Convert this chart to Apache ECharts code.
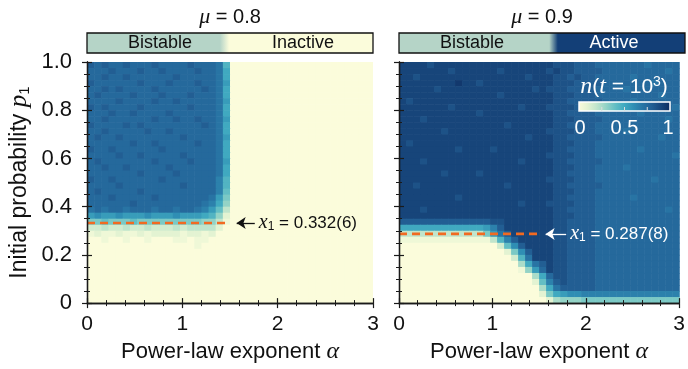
<!DOCTYPE html>
<html><head><meta charset="utf-8">
<script src="https://cdn.jsdelivr.net/npm/echarts@6/dist/echarts.min.js"></script>
<style>html,body{margin:0;padding:0;background:#fff}#c{width:688px;height:369px}</style>
</head><body><div id="c"></div>
<script>
// ---------------- data ----------------
const alphaMin = 0, alphaMax = 3, pMin = 0, pMax = 1;
const nCols = 40, nRows = 40;
const xTickLabels = ['0', '1', '2', '3'];
const yTickLabels = ['0', '0.2', '0.4', '0.6', '0.8', '1.0'];
const muValues = ['0.8', '0.9'];
const phasesLeft = ['Bistable', 'Inactive'];
const phasesRight = ['Bistable', 'Active'];
const x1Values = [0.332, 0.287];
const x1Texts = ['0.332(6)', '0.287(8)'];
const colorbarTicks = ['0', '0.5', '1'];
// cell values n(t=10^3): char code a..u -> 0..1 in steps of 0.05; rows listed top (p≈1) to bottom (p≈0)
const leftRows = [
"qpqppqpppq ppppqpppoj aaaaaaaaaa aaaaaaaaaa",
"pppqpppqpp qppppqppok aaaaaaaaaa aaaaaaaaaa",
"ppqppqpppp ppqpppppok aaaaaaaaaa aaaaaaaaaa",
"qppppppqpp pqpppqppol aaaaaaaaaa aaaaaaaaaa",
"ppqpqppppq ppppppqpok aaaaaaaaaa aaaaaaaaaa",
"pqppppqppp qpppqpppok aaaaaaaaaa aaaaaaaaaa",
"ppppqppppq ppqpppppol aaaaaaaaaa aaaaaaaaaa",
"qpqppppqpp ppppqpppok aaaaaaaaaa aaaaaaaaaa",
"pppqppqppp pqppppppok aaaaaaaaaa aaaaaaaaaa",
"ppqppppppq ppqppqppol aaaaaaaaaa aaaaaaaaaa",
"qppppqpqpp ppppppqpok aaaaaaaaaa aaaaaaaaaa",
"ppqpppppqp pqppppppok aaaaaaaaaa aaaaaaaaaa",
"pqppqppppp pppqppppol aaaaaaaaaa aaaaaaaaaa",
"ppppppqppq pppppqppok aaaaaaaaaa aaaaaaaaaa",
"qppqpppppp qpppppppok aaaaaaaaaa aaaaaaaaaa",
"ppppqppqpp pppqppppok aaaaaaaaaa aaaaaaaaaa",
"pqpppppppq ppppqpppol aaaaaaaaaa aaaaaaaaaa",
"ppqppqpppp pqppppppok aaaaaaaaaa aaaaaaaaaa",
"pppppppqpp ppqpppppok aaaaaaaaaa aaaaaaaaaa",
"qppqpppppp qpppppppnj aaaaaaaaaa aaaaaaaaaa",
"ppppqppppp pppqppppnj aaaaaaaaaa aaaaaaaaaa",
"pqpppppqpp ppppppppni aaaaaaaaaa aaaaaaaaaa",
"pppqpppppq pppppppolh aaaaaaaaaa aaaaaaaaaa",
"ppppppqppp pppppponkg aaaaaaaaaa aaaaaaaaaa",
"opoppopppo ppopponlie aaaaaaaaaa aaaaaaaaaa",
"lmllmlllml llmlllkjgc aaaaaaaaaa aaaaaaaaaa",
"hhihhhihhh hhhhhhggeb aaaaaaaaaa aaaaaaaaaa",
"ddeddedded ddedeeeeca aaaaaaaaaa aaaaaaaaaa",
"bcbbcbbcbc cccbccbcaa aaaaaaaaaa aaaaaaaaaa",
"aabaabaaba aabbabbaaa aaaaaaaaaa aaaaaaaaaa",
"aaaaaaaaaa aaaaabaaaa aaaaaaaaaa aaaaaaaaaa",
"aaaaaaaaaa aaaaaaaaaa aaaaaaaaaa aaaaaaaaaa",
"aaaaaaaaaa aaaaaaaaaa aaaaaaaaaa aaaaaaaaaa",
"aaaaaaaaaa aaaaaaaaaa aaaaaaaaaa aaaaaaaaaa",
"aaaaaaaaaa aaaaaaaaaa aaaaaaaaaa aaaaaaaaaa",
"aaaaaaaaaa aaaaaaaaaa aaaaaaaaaa aaaaaaaaaa",
"aaaaaaaaaa aaaaaaaaaa aaaaaaaaaa aaaaaaaaaa",
"aaaaaaaaaa aaaaaaaaaa aaaaaaaaaa aaaaaaaaaa",
"aaaaaaaaaa aaaaaaaaaa aaaaaaaaaa aaaaaaaaaa",
"aaaaaaaaaa aaaaaaaaaa aaaaaaaaaa aaaaaaaaaa"
];
const rightRows = [
"ssssrsssss ssssssssss ssrrrqqqpp pppppopppp",
"sssssssrss ssssrsssss srsrrqqqqp ppppppppop",
"ssrsssssss ssssssssrs ssrrqrqqpp pppopppppp",
"ssssssssts srssssssss ssrrrqqqqp ppppppoppp",
"sssssrssss sssssssssr srrrqqqqpp ppoppppppp",
"ssssssssss ssssrsssss ssrrrqqqpp pppppppopp",
"srssssssss ssssssssss ssrrqqqqqp pppopppppp",
"sssssssrss sssssssrss srrrrqqqpp pppppppppo",
"ssssssssss srssssssss ssrrqqqqpp ppppoppppp",
"sssrssssss ssssssssss ssrrrqqqqp ppppppppop",
"ssssssssss sssssrssss ssrrqqqqpp pppppppppp",
"ssssssrsss ssssssssss srrrrqqqpp ppoppppppp",
"ssssssssss ssssssssrs ssrrqqqqqp pppppppopp",
"srssssssss ssssssssss ssrrrqqqpp pppppppppp",
"ssssssssrs sssrssssss ssrrqqqqpp ppppoppppp",
"ssssssssss ssssssssss srrrrqqqpp pppppppppo",
"sssrssssss sssssssrss ssrrqqqqqp pppppppppp",
"ssssssssss ssssssssss ssrrrqqqpp ppoppppppp",
"ssssssrsss srssssssss ssrrqqqqpp pppppppppp",
"ssssssssss ssssssssss srrrrqqqpp ppppppoppp",
"ssrsssssss sssssrssss ssrrqqqqqp pppppppppp",
"ssssssssss ssssssssss ssrrrqqqpp pppppppppp",
"ssssssssrs ssssssssss ssrrqqqqpp pppopppppp",
"ssssssssss sssssssrss srrrrqqqpp pppppppppp",
"sssrssssss ssssssssss ssrrqqqqpp ppppppppop",
"ssssssssss ssssssssss ssrrrqqqpp pppppppppp",
"qqqqqqqqqq qqqrrsssss ssrrqqqqpp pppppppppp",
"kkkkkkkkkk kklnqsssss ssrrqqqqpp pppppppppp",
"eeeeeeeeee eehloqssss ssrrqqqqpp pppppppppp",
"bbbbbbbbbb bbbejnqsss ssrrqqqqpp pppppppppp",
"aaaaaaaaaa aaaadimqss ssrrqqqqpp pppppppppp",
"aaaaaaaaaa aaaaachmqs ssrrqqqqpp pppppppppp",
"aaaaaaaaaa aaaaaadjos ssrrqqqqpp pppppppppp",
"aaaaaaaaaa aaaaaaafko qsrrqqqqpp pppppppppp",
"aaaaaaaaaa aaaaaaabgl psrrqqqqpp pppppppppp",
"aaaaaaaaaa aaaaaaaaaf kprrqqqqpp pppppppppp",
"aaaaaaaaaa aaaaaaaaac inqrqqqqpp pppppppppp",
"aaaaaaaaaa aaaaaaaaaa fkoqqqqqpp pppppppppp",
"aaaaaaaaaa aaaaaaaaaa chklmmnnnn nnnnnnnnnn",
"aaaaaaaaaa aaaaaaaaaa acfggghhhh hhhhhhhhhh"
];
const cmap = ['#fbfcdb','#e3f3d2','#c0e5cc','#93d3c6','#63bec4','#40a9c0','#2f8eb4','#2874a4','#225e93','#17457a','#0c2b5f'];

// ---------------- build ----------------
const dA = (alphaMax - alphaMin) / nCols, dP = (pMax - pMin) / nRows;
function decode(rows) {
  const out = [];
  rows.forEach((s, i) => {
    const r = nRows - 1 - i;
    const str = s.replace(/\s+/g, '');
    for (let c = 0; c < nCols; c++) {
      const ch = str[Math.min(c, str.length - 1)];
      out.push([alphaMin + c * dA, pMin + r * dP, (ch.charCodeAt(0) - 97) * 0.05]);
    }
  });
  return out;
}
const leftData = decode(leftRows), rightData = decode(rightRows);

const FONT = '"Liberation Sans", Arial, sans-serif';
const SERIF = '"Liberation Serif", "DejaVu Serif", serif';
const AX = '#1a1a1a';
const grids = [
  {left: 87, top: 62, width: 286, height: 243},
  {left: 399, top: 62, width: 286, height: 243}
];

function cellRender(params, api) {
  const a = api.value(0), p = api.value(1);
  const tl = api.coord([a, p + dP]);
  const br = api.coord([a + dA, p]);
  return {type: 'rect', shape: {x: tl[0], y: tl[1], width: br[0] - tl[0] + 0.6, height: br[1] - tl[1] + 0.6},
    style: {fill: api.visual('color')}};
}

function xAx(g, pos, showLabel, name) {
  return {type: 'value', gridIndex: g, position: pos, min: alphaMin, max: alphaMax, interval: 1, z: 5,
    axisLine: {show: true, lineStyle: {color: AX, width: 1.3}},
    axisTick: {show: true, inside: true, length: 5, lineStyle: {color: AX, width: 1.2}},
    minorTick: {show: true, splitNumber: 5, length: 3, lineStyle: {color: AX, width: 1}},
    splitLine: {show: false}, minorSplitLine: {show: false},
    axisLabel: {show: showLabel, margin: 11, fontSize: 21, fontFamily: FONT, color: '#111',
      formatter: v => xTickLabels[Math.round(v)]},
    name: name || '', nameLocation: 'middle', nameGap: 33,
    nameTextStyle: {fontSize: 22, fontFamily: FONT, color: '#111',
      rich: {i: {fontSize: 24, fontFamily: SERIF, fontStyle: 'italic', color: '#111'}}}
  };
}
function yAx(g, pos, showLabel, name) {
  return {type: 'value', gridIndex: g, position: pos, min: pMin, max: pMax, interval: 0.2, z: 5,
    axisLine: {show: true, lineStyle: {color: AX, width: 1.3}},
    axisTick: {show: true, inside: true, length: 5, lineStyle: {color: AX, width: 1.2}},
    minorTick: {show: true, splitNumber: 4, length: 3, lineStyle: {color: AX, width: 1}},
    splitLine: {show: false}, minorSplitLine: {show: false},
    axisLabel: {show: showLabel, margin: 15, fontSize: 22, fontFamily: FONT, color: '#111',
      formatter: v => yTickLabels[Math.round(v * 5)]},
    name: name || '', nameLocation: 'middle', nameGap: 55,
    nameTextStyle: {fontSize: 23, fontFamily: FONT, color: '#111',
      rich: {i: {fontSize: 25, fontFamily: SERIF, fontStyle: 'italic', color: '#111'},
             s: {fontSize: 15, fontFamily: FONT, color: '#111', verticalAlign: 'bottom'}}}
  };
}

function annotSeries(g, x1, txt, color) {
  return {
    type: 'line', xAxisIndex: 2 * g, yAxisIndex: 2 * g, z: 4, silent: true,
    data: [[alphaMin, x1], [1.5, x1]], showSymbol: false, symbol: 'none',
    lineStyle: {color: '#f26a21', width: 2.6, type: [8, 5]},
    markLine: {
      silent: true, symbol: ['none', 'arrow'], symbolSize: 9, animation: false,
      lineStyle: {color: color, width: 1.3, type: 'solid'},
      label: {show: true, position: 'start', distance: 4, color: color,
        formatter: '{i|x}{s|1}{n| = ' + txt + '}',
        rich: {i: {fontSize: 20, fontFamily: SERIF, fontStyle: 'italic', color: color},
               s: {fontSize: 12, fontFamily: FONT, color: color, verticalAlign: 'bottom'},
               n: {fontSize: 17, fontFamily: FONT, color: color}}},
      data: [[{coord: [g === 0 ? 1.76 : 1.79, x1]}, {coord: [1.57, x1]}]]
    }
  };
}

function gradStops(arr) { return arr.map((c, i) => ({offset: i / (arr.length - 1), color: c})); }

const graphics = [];
// titles
[0, 1].forEach(g => {
  const cx = grids[g].left + grids[g].width / 2;
  graphics.push({type: 'text', x: cx, y: 17, z: 10, style: {
    text: '{i|μ} = ' + muValues[g], fill: '#111', fontSize: 20, fontFamily: FONT, align: 'center', verticalAlign: 'middle',
    rich: {i: {fontSize: 22, fontFamily: SERIF, fontStyle: 'italic', fill: '#111'}}}});
});
// phase bars
const bistableCol = '#b5d4c7', inactiveCol = '#fbfcdb', activeCol = '#133f77';
graphics.push({type: 'rect', shape: {x: grids[0].left, y: 33, width: grids[0].width, height: 20}, z: 10,
  style: {stroke: '#111', lineWidth: 1.3, fill: {type: 'linear', x: 0, y: 0, x2: 1, y2: 0, colorStops: [
    {offset: 0, color: bistableCol}, {offset: 0.465, color: bistableCol}, {offset: 0.497, color: inactiveCol}, {offset: 1, color: inactiveCol}]}}});
graphics.push({type: 'rect', shape: {x: grids[1].left, y: 33, width: grids[1].width, height: 20}, z: 10,
  style: {stroke: '#111', lineWidth: 1.3, fill: {type: 'linear', x: 0, y: 0, x2: 1, y2: 0, colorStops: [
    {offset: 0, color: bistableCol}, {offset: 0.525, color: bistableCol}, {offset: 0.555, color: activeCol}, {offset: 1, color: activeCol}]}}});
[[160, phasesLeft[0], '#111'], [303, phasesLeft[1], '#111'], [472, phasesRight[0], '#111'], [614, phasesRight[1], '#fff']].forEach(t => {
  graphics.push({type: 'text', x: t[0], y: 43.5, z: 11, style: {text: t[1], fill: t[2], fontSize: 18, fontFamily: FONT, align: 'center', verticalAlign: 'middle'}});
});
// colorbar
graphics.push({type: 'text', x: 624, y: 87, z: 11, style: {
  text: '{i|n}({i|t} = 10{s|3})', fill: '#fff', fontSize: 21, fontFamily: FONT, align: 'center', verticalAlign: 'middle',
  rich: {i: {fontSize: 24, fontFamily: SERIF, fontStyle: 'italic', fill: '#fff'},
         s: {fontSize: 14, fontFamily: FONT, fill: '#fff', verticalAlign: 'top'}}}});
graphics.push({type: 'rect', shape: {x: 579, y: 102, width: 91, height: 9}, z: 11,
  style: {stroke: '#fff', lineWidth: 1.5, fill: {type: 'linear', x: 0, y: 0, x2: 1, y2: 0, colorStops: gradStops(cmap)}}});
[0.25, 0.5, 0.75].forEach(f => {
  graphics.push({type: 'line', z: 12, shape: {x1: 579 + 91 * f, y1: 111, x2: 579 + 91 * f, y2: 107}, style: {stroke: '#ddd', lineWidth: 1}});
});
[[580, colorbarTicks[0]], [624.5, colorbarTicks[1]], [668, colorbarTicks[2]]].forEach(t => {
  graphics.push({type: 'text', x: t[0], y: 128, z: 11, style: {text: t[1], fill: '#fff', fontSize: 20, fontFamily: FONT, align: 'center', verticalAlign: 'middle'}});
});

const option = {
  animation: false,
  backgroundColor: '#fff',
  grid: grids,
  xAxis: [xAx(0, 'bottom', true, 'Power-law exponent {i|α}'), xAx(0, 'top', false),
          xAx(1, 'bottom', true, 'Power-law exponent {i|α}'), xAx(1, 'top', false)],
  yAxis: [yAx(0, 'left', true, 'Initial probability {i|p}{s|1}'), yAx(0, 'right', false),
          yAx(1, 'left', false), yAx(1, 'right', false)],
  visualMap: {type: 'continuous', show: false, min: 0, max: 1, dimension: 2, seriesIndex: [0, 2], inRange: {color: cmap}},
  series: [
    {type: 'custom', xAxisIndex: 0, yAxisIndex: 0, renderItem: cellRender, data: leftData, clip: true, silent: true},
    annotSeries(0, x1Values[0], x1Texts[0], '#111'),
    {type: 'custom', xAxisIndex: 2, yAxisIndex: 2, renderItem: cellRender, data: rightData, clip: true, silent: true},
    annotSeries(1, x1Values[1], x1Texts[1], '#fff')
  ],
  graphic: graphics
};
const chart = echarts.init(document.getElementById('c'), null, {renderer: 'canvas'});
chart.setOption(option);
</script></body></html>
